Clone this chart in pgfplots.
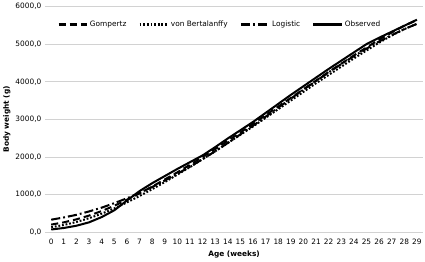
\documentclass[border=0pt]{standalone}
\usepackage{pgfplots}
\pgfplotsset{compat=1.18}
\usepackage{fontspec}
\setmainfont{DejaVu Sans}
\begin{document}
\begin{tikzpicture}
\begin{axis}[
  scale only axis,
  width=374pt, height=223pt,
  xmin=-0.5, xmax=29.5,
  ymin=0, ymax=6000,
  xtick={0,1,...,29},
  ytick={0,1000,...,6000},
  axis line style={draw=none},
  tick style={draw=none},
  ymajorgrids,
  grid style={gray!35, line width=0.6pt},
  /pgf/number format/assume math mode=true,
  yticklabel style={/pgf/number format/.cd, fixed, zerofill, precision=1, use comma, 1000 sep={}},
  scaled y ticks=false,
  tick label style={font=\fontsize{7.3}{8}\selectfont},
  xticklabel style={yshift=-3pt},
  xlabel={\textbf{Age (weeks)}},
  ylabel={\textbf{Body weight (g)}},
  label style={font=\fontsize{7.3}{8}\selectfont},
  xlabel style={yshift=0pt},
  ylabel style={yshift=-2pt},
  legend columns=4,
  legend style={draw=none, fill=none, at={(0.025,0.955)}, anchor=north west,
    font=\fontsize{7.3}{8}\selectfont,
    /tikz/every even column/.append style={column sep=10pt}},
  legend cell align=left,
  legend image code/.code={\draw[#1] (0pt,0pt) -- (28pt,0pt);},
]
\addplot[black, line width=2pt, dash pattern=on 7pt off 4pt] coordinates {
(0,200)(1,260)(2,340)(3,440)(4,560)(5,700)(6,860)(7,1030)(8,1210)(9,1400)
(10,1590)(11,1790)(12,2000)(13,2210)(14,2430)(15,2650)(16,2880)(17,3110)(18,3340)(19,3570)
(20,3800)(21,4030)(22,4260)(23,4480)(24,4700)(25,4910)(26,5120)(27,5310)(28,5490)(29,5640)};
\addlegendentry{Gompertz}
\addplot[black, line width=2pt, dash pattern=on 1.8pt off 1.8pt] coordinates {
(0,130)(1,190)(2,270)(3,370)(4,490)(5,630)(6,790)(7,960)(8,1140)(9,1330)
(10,1530)(11,1730)(12,1940)(13,2150)(14,2370)(15,2590)(16,2810)(17,3040)(18,3270)(19,3500)
(20,3730)(21,3960)(22,4180)(23,4400)(24,4620)(25,4830)(26,5040)(27,5230)(28,5400)(29,5540)};
\addlegendentry{von Bertalanffy}
\addplot[black, line width=2pt, dash pattern=on 9pt off 3pt on 1.8pt off 3pt] coordinates {
(0,330)(1,390)(2,460)(3,550)(4,650)(5,770)(6,900)(7,1040)(8,1200)(9,1370)
(10,1550)(11,1740)(12,1940)(13,2150)(14,2370)(15,2600)(16,2830)(17,3070)(18,3310)(19,3550)
(20,3790)(21,4020)(22,4250)(23,4470)(24,4680)(25,4880)(26,5070)(27,5240)(28,5400)(29,5540)};
\addlegendentry{Logistic}
\addplot[black, line width=2pt] coordinates {
(0,70)(1,110)(2,170)(3,260)(4,400)(5,580)(6,840)(7,1090)(8,1300)(9,1490)
(10,1680)(11,1860)(12,2040)(13,2260)(14,2490)(15,2710)(16,2930)(17,3170)(18,3410)(19,3650)
(20,3880)(21,4110)(22,4340)(23,4560)(24,4780)(25,5000)(26,5170)(27,5330)(28,5490)(29,5650)};
\addlegendentry{Observed}
\end{axis}
\end{tikzpicture}
\end{document}
